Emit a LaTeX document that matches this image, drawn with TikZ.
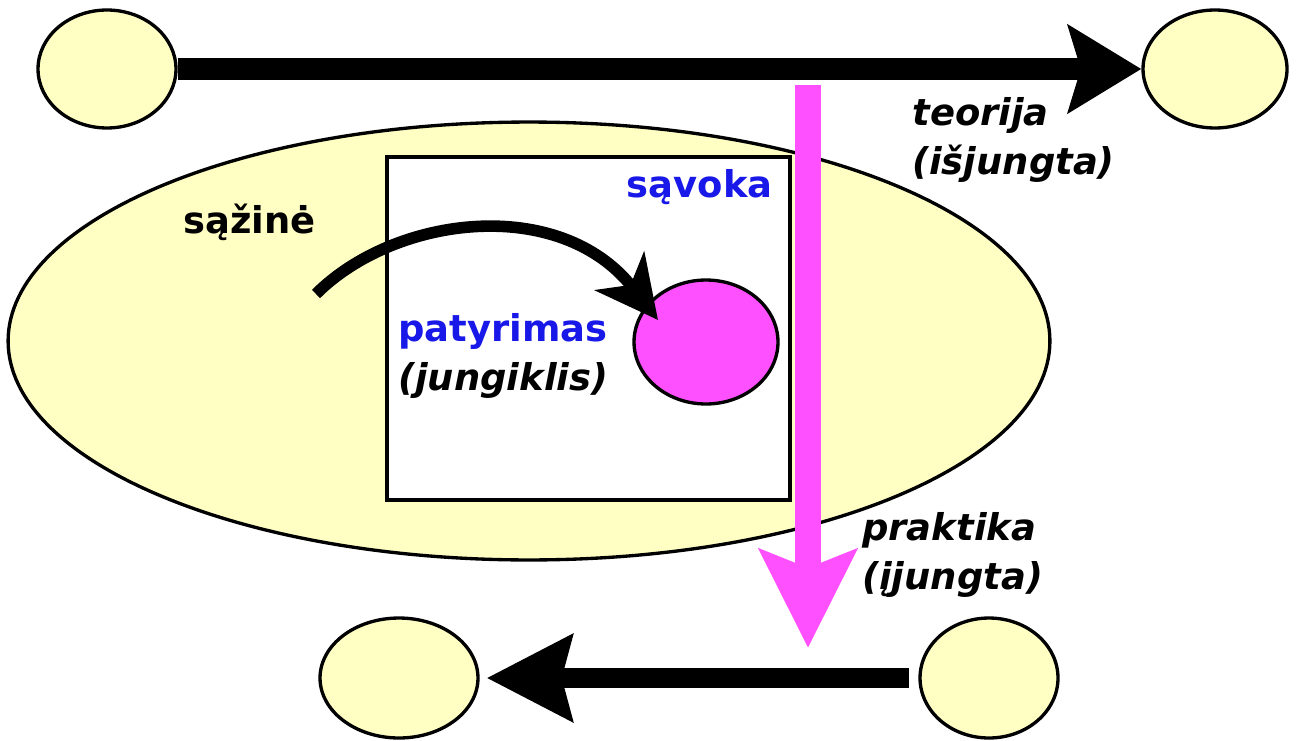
\documentclass[tikz,border=0pt]{standalone}
\usepackage{fontspec}
\setmainfont{DejaVu Sans}
\usetikzlibrary{shapes.geometric,arrows.meta}

\definecolor{pale}{RGB}{255, 255, 196}
\definecolor{switchcolor}{RGB}{255, 80, 255}
\definecolor{notioncolor}{RGB}{24, 24, 232}

\tikzset{
  blob/.style={ellipse, draw=black, line width=1.9pt, fill=pale, inner sep=0pt},
  label/.style={inner sep=0pt, font=\fontsize{21}{28}\selectfont\bfseries},
  bigarrow/.style={line width=12pt, -{Stealth[length=1.46cm, width=1.74cm, inset=0.25cm]}}
}

\begin{document}
\begin{tikzpicture}[x=0.02cm, y=-0.02cm]
            \useasboundingbox (0,0) rectangle (1297,740);
            % sazine
            \node[blob, minimum width=20.84cm, minimum height=8.76cm] (sazine) at (529,341) {};
            \draw[line width=1.9pt, fill=white] (387,157) rectangle (790,500);
            \node[label, anchor=west] (sazinetxt) at (183,222) {sąžinė};
            \node[label, anchor=east, text=notioncolor] (savoka) at (773,187) {sąvoka};
            
            % patyrimas
            \node[ellipse, draw=black, line width=1.9pt, fill=switchcolor, inner sep=0pt,
                  minimum width=2.88cm, minimum height=2.48cm] (patyr) at (706,342) {};
            \node[label, anchor=west, align=left] (patyrtxt) at (398,356)
                {\textcolor{notioncolor}{patyrimas}\\\itshape(jungiklis)};
            \coordinate (from) at (316,294);
            \coordinate (into) at (658,320);
            \draw[line width=6.6pt, -{Stealth[length=1.24cm, width=1.24cm, inset=0.35cm]}]
                (from) .. controls (395,215) and (560,195) .. (into);
            
            % teorija
            \node[blob, minimum width=2.76cm, minimum height=2.36cm] (tl) at (107,69) {};
            \node[blob, minimum width=2.88cm, minimum height=2.36cm] (tr) at (1215,69) {};
            \draw[bigarrow, line width=13pt] (tl) -- (tr);
            \node[label, anchor=west, align=left, font=\fontsize{21}{28}\selectfont\bfseries\itshape] (teor) at (912,140) {teorija\\(išjungta)};
            
            % praktika
            \node[blob, minimum width=3.16cm, minimum height=2.4cm] (bl) at (399,678) {};
            \node[blob, minimum width=2.76cm, minimum height=2.4cm] (br) at (989,678) {};
            \draw[line width=11.8pt, -{Stealth[length=1.7cm, width=1.7cm, inset=0.2cm]},
                  shorten <=0.18cm, shorten >=0.14cm] (br) -- (bl);
            \node[label, anchor=west, align=left, font=\fontsize{21}{28}\selectfont\bfseries\itshape] (prakt) at (862,555) {praktika\\(įjungta)};
            
            % jungiklis
            \coordinate (off) at (808,85);
            \coordinate (on) at (808,648);
            \draw[switchcolor, line width=15.3pt, -{Stealth[length=1.96cm, width=1.92cm, inset=0.36cm]}] (off) -- (on);
        \end{tikzpicture}
\end{document}
